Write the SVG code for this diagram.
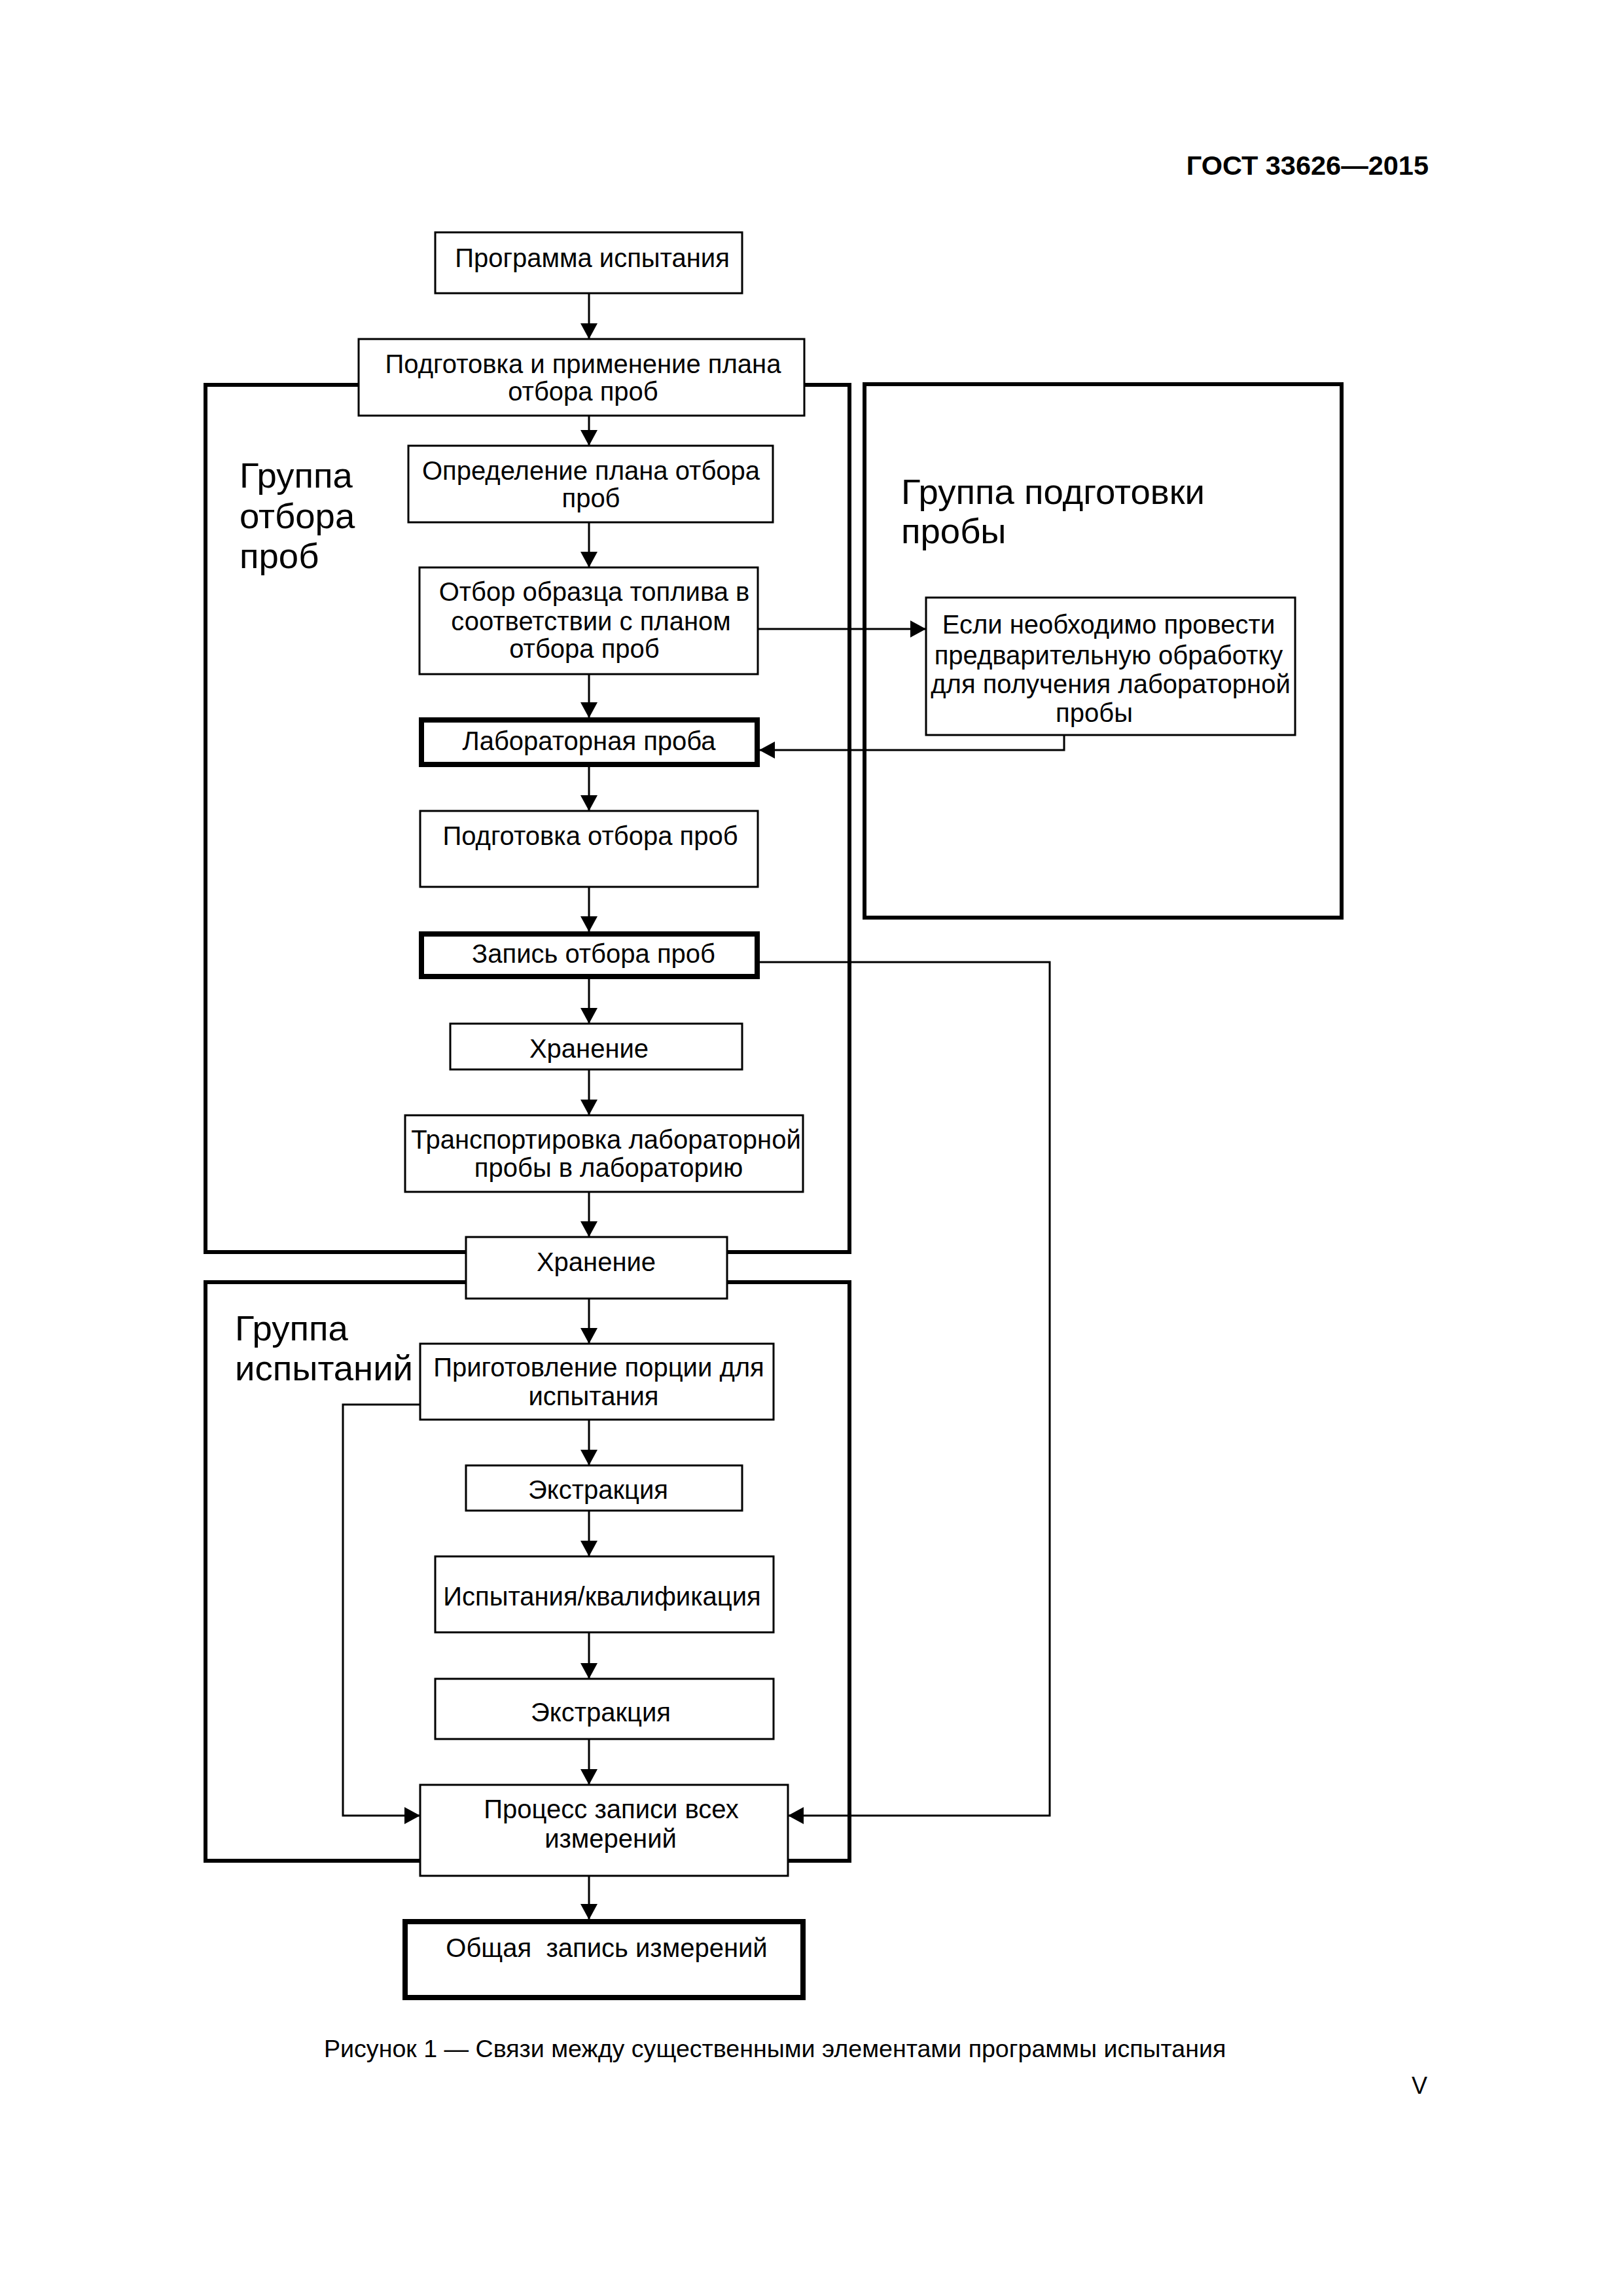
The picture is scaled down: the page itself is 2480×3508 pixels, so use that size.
<svg xmlns="http://www.w3.org/2000/svg" width="2480" height="3508" viewBox="0 0 2480 3508">
<style>
text{font-family:"Liberation Sans",Arial,sans-serif;fill:#000}
.t{font-size:40px;text-anchor:middle}
.g{font-size:54.5px}
.box{fill:#fff;stroke:#000;stroke-width:3}
.thick{fill:#fff;stroke:#000;stroke-width:8}
.grp{fill:none;stroke:#000;stroke-width:6}
.c{fill:none;stroke:#000;stroke-width:3}
</style>
<defs>
<marker id="ah" markerUnits="userSpaceOnUse" markerWidth="24" markerHeight="26" refX="23" refY="13" orient="auto">
<path d="M0,0 L24,13 L0,26 z" fill="#000"/>
</marker>
</defs>
<rect width="2480" height="3508" fill="#fff"/>
<text x="2183" y="267" style="font-size:41.5px;font-weight:bold;text-anchor:end">ГОСТ 33626—2015</text>

<g id="group-sampling">
<rect class="grp" x="314" y="588" width="984" height="1325"/>
<text class="g" x="366" y="745">Группа</text>
<text class="g" x="366" y="807">отбора</text>
<text class="g" x="366" y="868">проб</text>
</g>
<g id="group-preparation">
<rect class="grp" x="1321" y="587" width="729" height="815"/>
<text class="g" x="1377" y="770">Группа подготовки</text>
<text class="g" x="1377" y="830">пробы</text>
</g>
<g id="group-testing">
<rect class="grp" x="314" y="1959" width="984" height="884"/>
<text class="g" x="359" y="2048">Группа</text>
<text class="g" x="359" y="2109">испытаний</text>
</g>

<g id="connectors">
<line class="c" x1="900" y1="448" x2="900" y2="517" marker-end="url(#ah)"/>
<line class="c" x1="900" y1="635" x2="900" y2="680" marker-end="url(#ah)"/>
<line class="c" x1="900" y1="798" x2="900" y2="866" marker-end="url(#ah)"/>
<line class="c" x1="900" y1="1030" x2="900" y2="1096" marker-end="url(#ah)"/>
<line class="c" x1="900" y1="1172" x2="900" y2="1238" marker-end="url(#ah)"/>
<line class="c" x1="900" y1="1355" x2="900" y2="1423" marker-end="url(#ah)"/>
<line class="c" x1="900" y1="1496" x2="900" y2="1563" marker-end="url(#ah)"/>
<line class="c" x1="900" y1="1634" x2="900" y2="1703" marker-end="url(#ah)"/>
<line class="c" x1="900" y1="1821" x2="900" y2="1889" marker-end="url(#ah)"/>
<line class="c" x1="900" y1="1984" x2="900" y2="2052" marker-end="url(#ah)"/>
<line class="c" x1="900" y1="2169" x2="900" y2="2238" marker-end="url(#ah)"/>
<line class="c" x1="900" y1="2308" x2="900" y2="2377" marker-end="url(#ah)"/>
<line class="c" x1="900" y1="2494" x2="900" y2="2564" marker-end="url(#ah)"/>
<line class="c" x1="900" y1="2657" x2="900" y2="2726" marker-end="url(#ah)"/>
<line class="c" x1="900" y1="2866" x2="900" y2="2932" marker-end="url(#ah)"/>
<line class="c" x1="1158" y1="961" x2="1414" y2="961" marker-end="url(#ah)"/>
<path class="c" d="M1626,1123 V1146 H1161" marker-end="url(#ah)"/>
<path class="c" d="M1161,1470 H1604 V2774 H1205" marker-end="url(#ah)"/>
<path class="c" d="M642,2146 H524 V2774 H641" marker-end="url(#ah)"/>
</g>

<g id="n-program">
<rect class="box" x="665" y="355" width="469" height="93"/>
<text class="t" x="905" y="408">Программа испытания</text>
</g>
<g id="n-plan-apply">
<rect class="box" x="548" y="518" width="681" height="117"/>
<text class="t" x="891" y="570">Подготовка и применение плана</text>
<text class="t" x="891" y="612">отбора проб</text>
</g>
<g id="n-plan-define">
<rect class="box" x="624" y="681" width="557" height="117"/>
<text class="t" x="903" y="733">Определение плана отбора</text>
<text class="t" x="903" y="775">проб</text>
</g>
<g id="n-sampling">
<rect class="box" x="641" y="867" width="517" height="163"/>
<text class="t" x="908" y="918">Отбор образца топлива в</text>
<text class="t" x="903" y="963">соответствии с планом</text>
<text class="t" x="893" y="1005">отбора проб</text>
</g>
<g id="n-pretreat">
<rect class="box" x="1415" y="913" width="564" height="210"/>
<text class="t" x="1694" y="968">Если необходимо провести</text>
<text class="t" x="1694" y="1015">предварительную обработку</text>
<text class="t" x="1697" y="1059">для получения лабораторной</text>
<text class="t" x="1672" y="1103">пробы</text>
</g>
<g id="n-lab-sample">
<rect class="thick" x="644" y="1100" width="513" height="68"/>
<text class="t" x="900" y="1146">Лабораторная проба</text>
</g>
<g id="n-sample-prep">
<rect class="box" x="642" y="1239" width="516" height="116"/>
<text class="t" x="902" y="1291">Подготовка отбора проб</text>
</g>
<g id="n-sample-record">
<rect class="thick" x="644" y="1427" width="513" height="65"/>
<text class="t" x="907" y="1471">Запись отбора проб</text>
</g>
<g id="n-storage1">
<rect class="box" x="688" y="1564" width="446" height="70"/>
<text class="t" x="900" y="1616">Хранение</text>
</g>
<g id="n-transport">
<rect class="box" x="619" y="1704" width="608" height="117"/>
<text class="t" x="926" y="1755">Транспортировка лабораторной</text>
<text class="t" x="930" y="1798">пробы в лабораторию</text>
</g>
<g id="n-storage2">
<rect class="box" x="712" y="1890" width="399" height="94"/>
<text class="t" x="911" y="1942">Хранение</text>
</g>
<g id="n-portion">
<rect class="box" x="642" y="2053" width="540" height="116"/>
<text class="t" x="915" y="2103">Приготовление порции для</text>
<text class="t" x="907" y="2147">испытания</text>
</g>
<g id="n-extract1">
<rect class="box" x="712" y="2239" width="422" height="69"/>
<text class="t" x="914" y="2290">Экстракция</text>
</g>
<g id="n-testing">
<rect class="box" x="665" y="2378" width="517" height="116"/>
<text class="t" x="920" y="2453">Испытания/квалификация</text>
</g>
<g id="n-extract2">
<rect class="box" x="665" y="2565" width="517" height="92"/>
<text class="t" x="918" y="2630">Экстракция</text>
</g>
<g id="n-record-process">
<rect class="box" x="642" y="2727" width="562" height="139"/>
<text class="t" x="934" y="2778">Процесс записи всех</text>
<text class="t" x="933" y="2823">измерений</text>
</g>
<g id="n-general-record">
<rect class="thick" x="619" y="2936" width="608" height="116"/>
<text class="t" x="927" y="2990">Общая&#160; запись измерений</text>
</g>

<text x="495" y="3143" style="font-size:37.6px">Рисунок 1 — Связи между существенными элементами программы испытания</text>
<text x="2181" y="3199" style="font-size:36px;text-anchor:end">V</text>
</svg>
